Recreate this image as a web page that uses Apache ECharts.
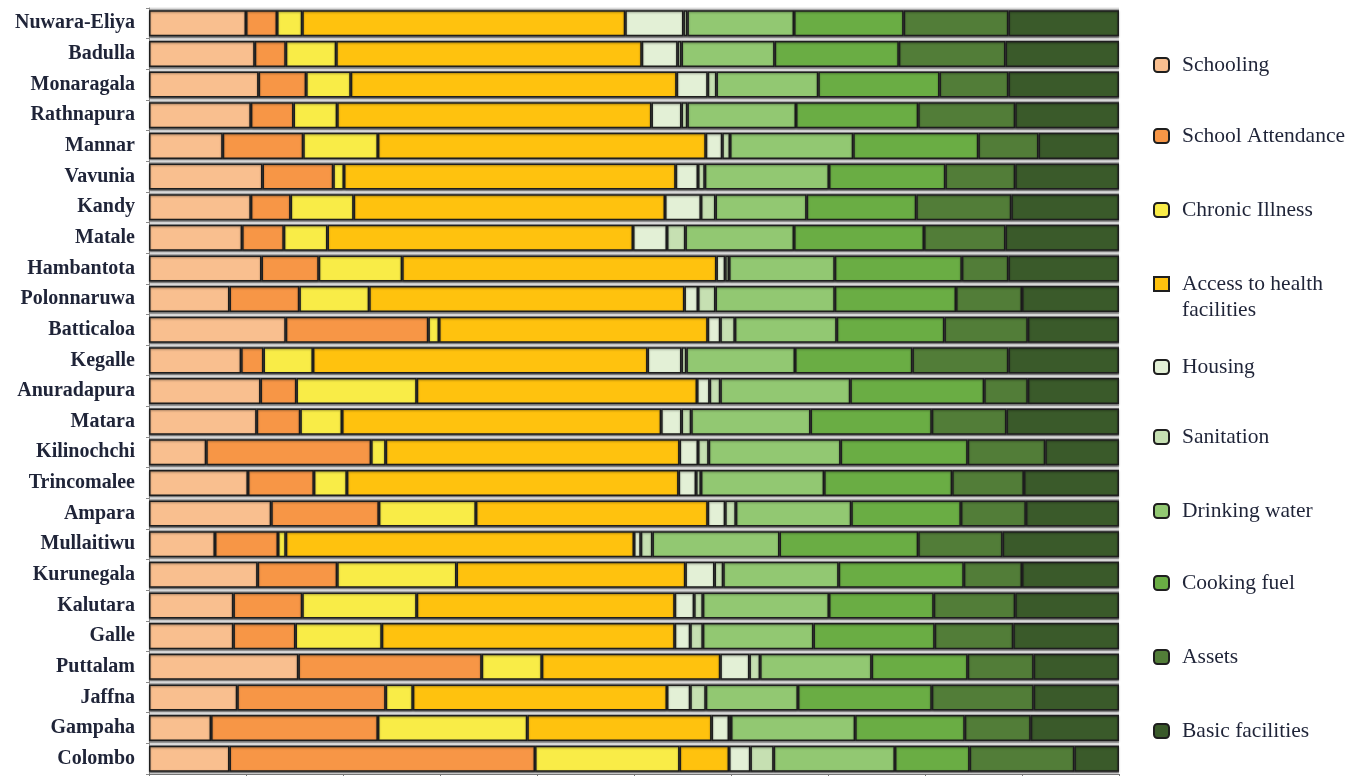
<!DOCTYPE html>
<html>
<head>
<meta charset="utf-8">
<script src="https://cdn.jsdelivr.net/npm/echarts@6/dist/echarts.min.js"></script>
<style>html,body{margin:0;padding:0;background:#fff}#c{width:1368px;height:776px}</style>
</head>
<body>
<div id="c"></div>
<script>
const districts = ['Nuwara-Eliya','Badulla','Monaragala','Rathnapura','Mannar','Vavunia','Kandy','Matale','Hambantota','Polonnaruwa','Batticaloa','Kegalle','Anuradapura','Matara','Kilinochchi','Trincomalee','Ampara','Mullaitiwu','Kurunegala','Kalutara','Galle','Puttalam','Jaffna','Gampaha','Colombo'];
const seriesNames = ['Schooling','School Attendance','Chronic Illness','Access to health facilities','Housing','Sanitation','Drinking water','Cooking fuel','Assets','Basic facilities'];
const schooling  = [10.0,10.9,11.3,10.5,7.6,11.7,10.5,9.6,11.6,8.3,14.1,9.5,11.5,11.1,5.9,10.2,12.6,6.8,11.2,8.7,8.7,15.4,9.1,6.4,8.3];
const attendance = [3.2,3.2,4.9,4.4,8.3,7.3,4.1,4.3,5.9,7.2,14.7,2.3,3.7,4.5,17.0,6.8,11.1,6.5,8.2,7.1,6.4,18.9,15.3,17.2,31.5];
const chronic    = [2.6,5.2,4.6,4.5,7.7,1.1,6.5,4.5,8.6,7.2,1.1,5.1,12.4,4.3,1.5,3.4,10.0,0.8,12.3,11.8,8.9,6.2,2.8,15.4,14.9];
const access     = [33.3,31.5,33.6,32.4,33.8,34.2,32.1,31.5,32.4,32.5,27.7,34.5,28.9,32.9,30.3,34.2,23.9,35.9,23.6,26.6,30.2,18.4,26.2,19.0,5.1];
const housing    = [6.0,3.7,3.2,3.1,1.7,2.3,3.7,3.5,0.9,1.4,1.3,3.5,1.3,2.1,1.9,1.8,1.8,0.7,3.0,2.0,1.6,3.0,2.4,1.8,2.2];
const sanitation = [0.4,0.4,0.9,0.6,0.8,0.7,1.5,1.9,0.4,1.8,1.5,0.5,1.1,1.0,1.1,0.5,1.1,1.2,0.9,0.9,1.3,1.1,1.6,0.2,2.4];
const drinking   = [11.0,9.6,10.5,11.2,12.7,12.8,9.4,11.2,10.9,12.3,10.5,11.2,13.4,12.3,13.6,12.7,11.9,13.1,11.9,13.0,11.4,11.5,9.5,12.8,12.5];
const cooking    = [11.3,12.8,12.5,12.6,12.9,12.0,11.3,13.4,13.1,12.5,11.1,12.1,13.8,12.5,13.1,13.2,11.3,14.3,12.9,10.8,12.5,9.9,13.8,11.3,7.7];
const assets     = [10.8,11.0,7.1,10.0,6.2,7.2,9.8,8.4,4.8,6.8,8.6,9.9,4.5,7.7,8.0,7.4,6.7,8.7,6.0,8.4,8.1,6.8,10.5,6.8,10.8];
const basic      = [11.4,11.7,11.4,10.7,8.3,10.7,11.1,11.7,11.4,10.0,9.4,11.4,9.4,11.6,7.6,9.8,9.6,12.0,10.0,10.7,10.9,8.8,8.8,9.1,4.6];
const seriesValues = [schooling,attendance,chronic,access,housing,sanitation,drinking,cooking,assets,basic];
const colors = ['#F9BF8F','#F79646','#F9EC47','#FFC20E','#E3F0D6','#C6E0B2','#92C872','#6AAD44','#527D38','#3A5A2A'];
const legendTops = [52,123,197,270,354,424,498,570,644,718];

const chart = echarts.init(document.getElementById('c'));
const FONT = '"Liberation Serif","DejaVu Serif",serif';
const TWO = 'Access to health facilities';

const legends = seriesNames.map((n,i)=>{
  const two = n === TWO;
  return {
    data:[n], orient:'vertical', left:1153, top:legendTops[i],
    itemWidth:15, itemHeight: two ? 52 : 14, itemGap:0, padding:0,
    icon: two ? 'path://M0,6L15,6L15,20L0,20Z M0,0L0,0 M0,52L0,52' : 'roundRect',
    formatter: name => name === TWO ? 'Access to health\nfacilities' : name,
    textStyle:{fontFamily:FONT, fontSize:21.5, color:'#1f2438', lineHeight:26, padding:[0,0,0,8]},
    selectedMode:false
  };
});

chart.setOption({
  animation:false,
  legend: legends,
  grid:{left:149, right:249, top:8, bottom:2, show:true, backgroundColor:'#a8a8a8', borderWidth:0},
  xAxis:{type:'value', min:0, max:100, interval:10,
    axisLine:{show:true, lineStyle:{color:'#777'}},
    axisTick:{show:true, length:5, lineStyle:{color:'#777'}},
    axisLabel:{show:false}, splitLine:{show:false}},
  yAxis:{type:'category', data:districts, inverse:true, offset:4,
    axisLine:{show:true, lineStyle:{color:'#8a8a8a'}},
    axisTick:{show:true, length:3, interval:0, lineStyle:{color:'#8a8a8a'}},
    splitLine:{show:true, interval:0, lineStyle:{color:'#ececec', width:1.5}},
    axisLabel:{fontFamily:FONT, fontSize:20, fontWeight:'bold', color:'#1f2438', margin:10, interval:0, padding:[5,0,0,0]}},
  series: seriesNames.map((n,i)=>({
    name:n, type:'bar', stack:'all', data:seriesValues[i], barCategoryGap:'15%',
    itemStyle:{color:colors[i], borderColor:'#1e1e1e', borderWidth:1.5,
      shadowColor:'rgba(0,0,0,0.35)', shadowBlur:2, shadowOffsetY:1}
  }))
});
</script>
</body>
</html>
